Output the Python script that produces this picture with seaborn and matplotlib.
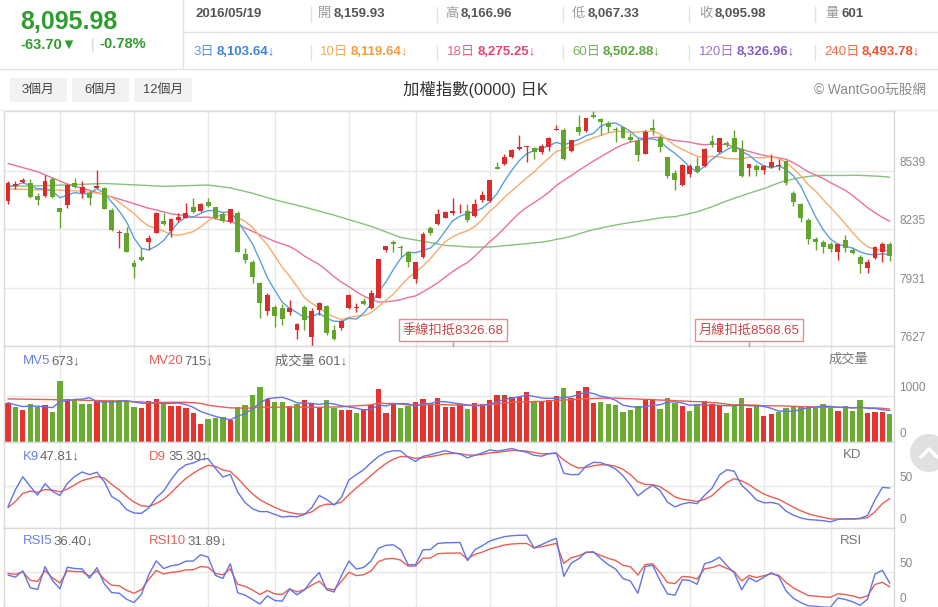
import numpy as np
import pandas as pd
import matplotlib
matplotlib.use('Agg')
import matplotlib.pyplot as plt
import matplotlib.transforms as mtrans
from matplotlib.patches import Rectangle, Circle
import seaborn as sns

# ---------------- data ----------------
opens = [8381, 8461, 8480, 8473, 8409, 8409, 8496, 8343, 8361, 8478,
         8426, 8426, 8452, 8447, 8334, 8217, 8216, 8059, 8090, 8166,
         8216, 8277, 8227, 8282, 8295, 8352, 8329, 8378, 8348, 8314,
         8270, 8321, 8104, 8066, 7956, 7809, 7828, 7823, 7805, 7710,
         7828, 7675, 7814, 7835, 7710, 7722, 7823, 7826, 7863, 7823,
         7878, 8125, 8166, 8144, 8118, 7975, 8088, 8239, 8260, 8295,
         8317, 8328, 8329, 8305, 8387, 8381, 8557, 8572, 8612, 8655,
         8662, 8659, 8638, 8664, 8753, 8751, 8642, 8768, 8747, 8832,
         8808, 8786, 8755, 8765, 8716, 8694, 8626, 8760, 8708, 8609,
         8525, 8465, 8520, 8563, 8563, 8694, 8638, 8685, 8708, 8652,
         8551, 8563, 8543, 8557, 8565, 8590, 8426, 8364, 8282, 8182,
         8170, 8156, 8118, 8178, 8126, 8092, 8034, 8083, 8114, 8159.93]
highs = [8485, 8485, 8503, 8496, 8426, 8517, 8508, 8345, 8468, 8499,
         8485, 8439, 8543, 8456, 8343, 8230, 8248, 8074, 8135, 8204,
         8326, 8317, 8295, 8317, 8369, 8399, 8369, 8399, 8352, 8326,
         8340, 8329, 8138, 8074, 7961, 7901, 7840, 7843, 7866, 7745,
         7840, 7823, 7857, 7840, 7736, 7762, 7896, 7849, 7875, 7918,
         8079, 8149, 8178, 8152, 8121, 8066, 8222, 8253, 8340, 8329,
         8399, 8364, 8364, 8390, 8433, 8491, 8586, 8629, 8655, 8728,
         8669, 8664, 8676, 8713, 8777, 8760, 8702, 8829, 8815, 8850,
         8815, 8800, 8768, 8768, 8734, 8708, 8751, 8808, 8725, 8612,
         8543, 8572, 8572, 8612, 8659, 8725, 8711, 8694, 8751, 8699,
         8577, 8572, 8569, 8624, 8603, 8595, 8433, 8369, 8291, 8196,
         8178, 8170, 8161, 8204, 8144, 8100, 8079, 8149, 8166, 8166.96]
lows = [8364, 8444, 8473, 8395, 8361, 8405, 8395, 8243, 8343, 8447,
        8399, 8361, 8447, 8338, 8225, 8135, 8114, 7982, 8070, 8126,
        8213, 8256, 8196, 8270, 8291, 8317, 8326, 8352, 8288, 8274,
        8265, 8114, 8057, 7953, 7771, 7788, 7727, 7736, 7788, 7661,
        7710, 7628, 7788, 7684, 7658, 7710, 7819, 7805, 7840, 7819,
        7875, 8118, 8118, 8092, 8036, 7953, 8083, 8204, 8256, 8291,
        8308, 8317, 8270, 8300, 8378, 8378, 8546, 8569, 8607, 8647,
        8583, 8600, 8624, 8642, 8749, 8595, 8638, 8728, 8742, 8812,
        8725, 8742, 8690, 8708, 8687, 8589, 8624, 8725, 8638, 8503,
        8439, 8461, 8508, 8525, 8560, 8664, 8633, 8664, 8635, 8508,
        8511, 8511, 8520, 8551, 8543, 8465, 8357, 8270, 8156, 8126,
        8109, 8114, 8074, 8118, 8104, 8005, 8005, 8079, 8066, 8067.33]
closes = [8478, 8468, 8491, 8400, 8387, 8485, 8400, 8322, 8465, 8456,
          8454, 8399, 8458, 8340, 8230, 8222, 8118, 8036, 8072, 8187,
          8321, 8262, 8286, 8296, 8321, 8322, 8364, 8357, 8291, 8277,
          8338, 8114, 8074, 7987, 7849, 7892, 7784, 7765, 7823, 7739,
          7762, 7809, 7852, 7693, 7661, 7757, 7892, 7831, 7845, 7901,
          8078, 8145, 8156, 8135, 8062, 8062, 8210, 8213, 8314, 8326,
          8329, 8331, 8282, 8366, 8413, 8491, 8548, 8612, 8647, 8664,
          8666, 8638, 8668, 8708, 8756, 8603, 8699, 8739, 8812, 8817,
          8791, 8768, 8751, 8711, 8699, 8621, 8742, 8751, 8661, 8511,
          8489, 8569, 8563, 8534, 8655, 8673, 8708, 8673, 8638, 8511,
          8572, 8543, 8563, 8583, 8567, 8473, 8378, 8291, 8184, 8166,
          8144, 8131, 8156, 8138, 8109, 8052, 8066, 8144, 8160, 8095.98]
volumes = [848, 754, 688, 812, 754, 790, 652, 1326, 920, 906,
           819, 819, 891, 884, 899, 899, 884, 761, 739, 891,
           920, 833, 775, 775, 739, 616, 384, 493, 514, 536,
           464, 761, 797, 1014, 1181, 920, 855, 855, 768, 819,
           899, 819, 746, 899, 739, 696, 696, 616, 710, 797,
           1145, 616, 848, 739, 775, 870, 920, 841, 956, 754,
           754, 812, 710, 848, 819, 913, 1014, 1014, 964, 978,
           1080, 884, 855, 906, 1000, 1159, 956, 1101, 1181, 833,
           870, 819, 797, 645, 688, 783, 899, 935, 717, 956,
           833, 775, 674, 797, 891, 819, 775, 623, 812, 956,
           739, 775, 551, 609, 652, 725, 754, 775, 775, 739,
           812, 739, 667, 775, 674, 899, 616, 645, 638, 601]

# start of the moving-average lines (before a full window exists)
ma5_head_idx, ma5_head_val = [0, 1, 2, 3], [8455, 8462, 8478, 8462]
ma10_head_idx, ma10_head_val = [0, 4, 8], [8445, 8440, 8438]
ma20_head_idx, ma20_head_val = [0, 4, 8, 12, 16], [8577, 8534, 8470, 8426, 8380]
ma60_head_idx = [0, 6, 13, 17, 21, 27, 30, 33, 36, 40, 44, 49, 53, 58]
ma60_head_val = [8458, 8463, 8473, 8466, 8458, 8465, 8450, 8422, 8388, 8350,
                 8308, 8250, 8192, 8158]
mv20_head_idx, mv20_head_val = [0, 6, 12, 18], [930, 915, 895, 865]
k_start, d_start = 25, 24
rsi5_start, rsi10_start = 46, 48

grid_idx = [7, 17, 27, 36, 46, 55, 65, 74, 92, 102, 111]
price_ticks = [8539, 8235, 7931, 7627]
vol_ticks = [1000, 0]
osc_ticks = [50, 0]

hdr_price, hdr_change, hdr_pct = "8,095.98", "-63.70▼", "-0.78%"
hdr_row1 = [("", "2016/05/19"), ("開", "8,159.93"), ("高", "8,166.96"),
            ("低", "8,067.33"), ("收", "8,095.98"), ("量", "601")]
hdr_row2 = [("3日", "8,103.64↓"), ("10日", "8,119.64↓"), ("18日", "8,275.25↓"),
            ("60日", "8,502.88↓"), ("120日", "8,326.96↓"), ("240日", "8,493.78↓")]
buttons = ["3個月", "6個月", "12個月"]
title = "加權指數(0000) 日K"
brand = "© WantGoo玩股網"
deduct = [(60, "季線扣抵8326.68"), (100, "月線扣抵8568.65")]

# ---------------- style ----------------
sns.set_theme(style="white")
plt.rcParams['font.family'] = ['Liberation Sans', 'Noto Sans CJK TC', 'DejaVu Sans']

RED, GREEN = '#dc2b2b', '#62a52c'
VRED, VGREEN = '#e5332f', '#6aab32'
C_MA5, C_MA10, C_MA20, C_MA60 = '#5aa0e0', '#f7ab6c', '#e8729c', '#86c27a'
C_BLUE, C_RED = '#6274e6', '#ea5e52'
GRID = '#e8e8e8'
EDGE = '#dadada'
GRAY = '#888888'

W, H = 938, 607
fig = plt.figure(figsize=(W / 100, H / 100), dpi=100)
fig.patch.set_facecolor('white')

def rect(l, t, r, b):
    return [l / W, 1 - b / H, (r - l) / W, (b - t) / H]

N = len(closes)
x = np.arange(N)
o, h, l, c = map(np.array, (opens, highs, lows, closes))
v = np.array(volumes, dtype=float)
X0, X1 = (4 - 8) / 7.41, (894 - 8) / 7.41

def ma_line(vals, n, hidx, hval):
    s = pd.Series(vals, dtype=float).rolling(n).mean()
    xs = list(hidx) + list(range(n - 1, len(vals)))
    ys = list(hval) + list(s.values[n - 1:])
    return np.array(xs), np.array(ys)

def style_ax(ax, ylo, yhi):
    ax.set_xlim(X0, X1)
    ax.set_ylim(ylo, yhi)
    ax.set_xticks([]); ax.set_yticks([])
    for sp in ax.spines.values():
        sp.set_color(EDGE); sp.set_linewidth(1)
    for gi in grid_idx:
        ax.axvline(gi, color=GRID, lw=1, zorder=0)

def right_labels(ax, ticks, last_dy=8):
    for j, t in enumerate(ticks):
        dy = last_dy if j == len(ticks) - 1 else 8
        tr = mtrans.blended_transform_factory(ax.transAxes, ax.transData)
        tr = mtrans.offset_copy(tr, fig=fig, x=5, y=dy, units='dots')
        ax.text(1.0, t, str(t), transform=tr, ha='left', va='center',
                fontsize=8.5, color=GRAY, clip_on=False)

# ---------------- main candlestick panel ----------------
ax = fig.add_axes(rect(4, 110.7, 894, 346))
style_ax(ax, 7626.6, 8852)
for t in price_ticks[:3]:
    ax.axhline(t, color=GRID, lw=1, zorder=0)
for (xs, ys), col in [(ma_line(closes, 60, ma60_head_idx, ma60_head_val), C_MA60),
                      (ma_line(closes, 20, ma20_head_idx, ma20_head_val), C_MA20),
                      (ma_line(closes, 10, ma10_head_idx, ma10_head_val), C_MA10),
                      (ma_line(closes, 5, ma5_head_idx, ma5_head_val), C_MA5)]:
    sns.lineplot(x=xs, y=ys, ax=ax, color=col, lw=1.0, estimator=None, sort=False, zorder=2)
up = c >= o
ccol = np.where(up, RED, GREEN)
ax.vlines(x, l, h, colors=ccol, lw=1, zorder=3)
ax.bar(x, np.maximum(np.abs(c - o), 4), bottom=np.minimum(o, c), width=0.66,
       color=ccol, lw=0, zorder=4)
ax.set_xlabel(''); ax.set_ylabel('')
right_labels(ax, price_ticks)

# ---------------- volume panel ----------------
axv = fig.add_axes(rect(4, 346, 894, 441.7))
style_ax(axv, 0, 2080)
axv.axhline(1000, color=GRID, lw=1, zorder=0)
vup = np.r_[True, c[1:] >= c[:-1]]
axv.bar(x, v, width=0.72, color=np.where(vup, VRED, VGREEN), lw=0, zorder=2)
mv5 = pd.Series(v).rolling(5, min_periods=1).mean().values
xs20, ys20 = ma_line(volumes, 20, mv20_head_idx, mv20_head_val)
sns.lineplot(x=xs20, y=ys20, ax=axv, color=C_RED, lw=1.0, estimator=None, sort=False, zorder=3)
sns.lineplot(x=x, y=mv5, ax=axv, color=C_BLUE, lw=1.0, estimator=None, sort=False, zorder=3)
axv.set_xlabel(''); axv.set_ylabel('')
right_labels(axv, vol_ticks)

# ---------------- KD panel ----------------
K, D = [k_start], [d_start]
for i in range(1, N):
    lo, hi = l[max(0, i - 8):i + 1].min(), h[max(0, i - 8):i + 1].max()
    rsv = (c[i] - lo) / (hi - lo) * 100
    K.append(K[-1] * 2 / 3 + rsv / 3)
    D.append(D[-1] * 2 / 3 + K[-1] / 3)
axk = fig.add_axes(rect(4, 441.7, 894, 527.7))
style_ax(axk, 0, 102.4)
axk.axhline(50, color=GRID, lw=1, zorder=0)
sns.lineplot(x=x, y=D, ax=axk, color=C_RED, lw=1.0, estimator=None, sort=False)
sns.lineplot(x=x, y=K, ax=axk, color=C_BLUE, lw=1.0, estimator=None, sort=False)
axk.set_xlabel(''); axk.set_ylabel('')
right_labels(axk, osc_ticks)

# ---------------- RSI panel ----------------
def rsi(vals, n, seed):
    ag, al = 45 * seed / 100, 45 * (1 - seed / 100)
    out = [seed]
    for i in range(1, len(vals)):
        ch = vals[i] - vals[i - 1]
        ag = (ag * (n - 1) + max(ch, 0)) / n
        al = (al * (n - 1) + max(-ch, 0)) / n
        out.append(100 * ag / (ag + al))
    return np.array(out)
r5, r10 = rsi(c, 5, rsi5_start), rsi(c, 10, rsi10_start)
axr = fig.add_axes(rect(4, 527.7, 894, 607))
style_ax(axr, 8.0, 102.4)
axr.axhline(50, color=GRID, lw=1, zorder=0)
sns.lineplot(x=x, y=r10, ax=axr, color=C_RED, lw=1.0, estimator=None, sort=False)
sns.lineplot(x=x, y=r5, ax=axr, color=C_BLUE, lw=1.0, estimator=None, sort=False)
axr.set_xlabel(''); axr.set_ylabel('')
right_labels(axr, osc_ticks, last_dy=15)

# ---------------- overlay: header, labels ----------------
ov = fig.add_axes([0, 0, 1, 1], zorder=10)
ov.set_xlim(0, W); ov.set_ylim(H, 0); ov.axis('off')
LG = '#e2e2e2'
ov.plot([183, 183], [0, 68], color=LG, lw=1)
ov.plot([183, W], [32, 32], color=LG, lw=1)
ov.plot([0, W], [68.5, 68.5], color=LG, lw=1)
ov.plot([0, W], [109.5, 109.5], color='#ececec', lw=1)
HG = '#2f9e2f'
ov.text(20, 22, hdr_price, fontsize=18, fontweight='bold', color=HG, va='center')
ov.text(20, 44.5, hdr_change, fontsize=10.5, fontweight='bold', color=HG, va='center')
ov.text(91, 44.5, "|", fontsize=10, color='#d0d0d0', va='center')
ov.text(99, 44.5, hdr_pct, fontsize=10.5, fontweight='bold', color=HG, va='center')

col_x = [195, 318, 445, 572, 699, 825]
sep_x = [311, 437, 563, 689, 815]
for sx in sep_x:
    ov.plot([sx, sx], [7, 22], color=LG, lw=1)
    ov.plot([sx, sx], [45, 60], color=LG, lw=1)
for (lab, val), cx in zip(hdr_row1, col_x):
    vx = cx
    if lab:
        ov.text(cx, 14, lab, fontsize=9.5, color='#999999', va='center')
        vx = cx + 16
    ov.text(vx, 14, val, fontsize=9.5, fontweight='bold', color='#555555', va='center')
row2_cols = ['#3d85d8', '#f59a3e', '#e8456f', '#5aa83c', '#8a5cc6', '#f2542d']
row2_off = [24, 31, 31, 31, 38, 38]
for (lab, val), cx, col, off in zip(hdr_row2, [193, 320, 447, 572, 699, 824], row2_cols, row2_off):
    ov.text(cx, 52, lab, fontsize=9.5, color=col, va='center', alpha=0.85)
    ov.text(cx + off, 52, val, fontsize=9.5, fontweight='bold', color=col, va='center')

for (bx0, bx1), lab in zip([(10, 67), (72, 129), (134, 192)], buttons):
    ov.add_patch(Rectangle((bx0, 78), bx1 - bx0, 24, fc='#f2f2f2', ec='none'))
    ov.text((bx0 + bx1) / 2, 90, lab, fontsize=9.3, color='#444444', ha='center', va='center')
ov.text(475, 90, title, fontsize=11.8, color='#333333', ha='center', va='center')
ov.text(926, 90, brand, fontsize=9.8, color='#8a8a8a', ha='right', va='center')

for idx, txt in deduct:
    px = 8 + 7.41 * idx
    ov.add_patch(Rectangle((px - 54, 319), 108, 22, fc='white', ec='#ea8c8c', lw=1, zorder=5))
    ov.text(px, 330.5, txt, fontsize=9.5, color='#c84646', ha='center', va='center', zorder=6)
    ov.plot([px, px], [341, 346], color='#ea8c8c', lw=1)

def pair(x0, y, lab, lcol, val, gap):
    ov.text(x0, y, lab, fontsize=9.5, color=lcol, va='center')
    ov.text(x0 + gap, y, val, fontsize=9.5, color='#666666', va='center')
pair(23, 361.5, "MV5", '#6a7ee8', "673↓", 28)
pair(149, 361.5, "MV20", C_RED, "715↓", 35)
ov.text(275, 361.5, "成交量 601↓", fontsize=9.5, color='#666666', va='center')
ov.text(868, 360, "成交量", fontsize=9.5, color='#777777', ha='right', va='center')
pair(23, 456.5, "K9", '#6a7ee8', "47.81↓", 17)
pair(149, 456.5, "D9", C_RED, "35.30↑", 19)
ov.text(861, 455, "KD", fontsize=9.5, color='#777777', ha='right', va='center')
pair(23, 541, "RSI5", '#6a7ee8', "36.40↓", 30)
pair(149, 541, "RSI10", C_RED, "31.89↓", 38)
ov.text(862, 541, "RSI", fontsize=9.5, color='#777777', ha='right', va='center')

ov.add_patch(Circle((929, 453), 19, fc='#e0e0e0', ec='none'))
ov.plot([921, 929, 937], [457, 449, 457], color='white', lw=2.5, solid_capstyle='round')

fig.savefig('out.png', dpi=100, facecolor='white')
